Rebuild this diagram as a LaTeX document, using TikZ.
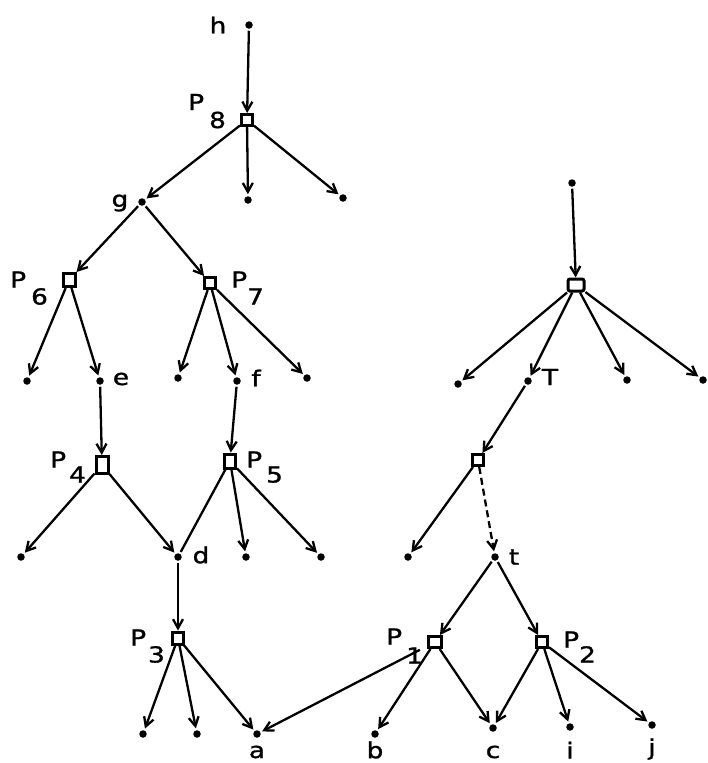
\documentclass[tikz,border=0pt]{standalone}
\usepackage{fontspec}
\setmainfont{DejaVu Sans}[FakeStretch=1.2,FakeBold=1.2]
\usetikzlibrary{arrows.meta}
\newcommand{\Plab}[3]{P\hspace{#2pt}\raisebox{-#3pt}{#1}}
\begin{document}
\begin{tikzpicture}[x=1pt,y=-1pt,
  dotnode/.style={circle,fill=black,inner sep=0pt,minimum size=7.5pt,outer sep=2pt},
  boxnode/.style={draw,line width=3pt,inner sep=0pt,minimum width=11pt,minimum height=11pt,outer sep=1.5pt},
  txt/.style={inner sep=0pt,font=\fontsize{22}{22}\selectfont},
  plab/.style={inner sep=0pt,anchor=base west,font=\fontsize{22}{22}\selectfont},
  arr/.style={line width=2.3pt,-{Straight Barb[length=9pt,width=10pt,line width=2.3pt]}},
  lin/.style={line width=2.3pt},
]
\useasboundingbox (0,0) rectangle (707,763);

% ---------- left tree ----------
\node[dotnode] (h) at (249,25) {};
\node[txt] (hl) at (218,25) {h};
\node[boxnode] (P8) at (247,120) {};
\node[plab] (P8l) at (188,110) {\Plab{8}{5}{18}};
\node[dotnode] (g) at (142,202) {};
\node[txt] (gl) at (120,203) {g};
\node[dotnode] (u1) at (248,200) {};
\node[dotnode] (u2) at (343,198) {};

\node[boxnode,minimum width=12pt,minimum height=13pt] (P6) at (69,280) {};
\node[plab] (P6l) at (10,287.5) {\Plab{6}{5}{17}};
\node[boxnode] (P7) at (210,283) {};
\node[plab] (P7l) at (231,287.5) {\Plab{7}{0}{17}};

\node[dotnode] (v1) at (27,381) {};
\node[dotnode] (e) at (100,381) {};
\node[txt] (el) at (121,379) {e};
\node[dotnode] (f) at (237,381) {};
\node[txt] (fl) at (256,378) {f};
\node[dotnode] (v2) at (178,378) {};
\node[dotnode] (v3) at (307,378) {};

\node[boxnode,minimum width=12pt,minimum height=17pt] (P4) at (102,465) {};
\node[plab] (P4l) at (50,467.5) {\Plab{4}{3}{15}};
\node[boxnode,minimum width=11pt,minimum height=14pt] (P5) at (230,461) {};
\node[plab] (P5l) at (246,467.5) {\Plab{5}{4}{15}};

\node[dotnode] (w1) at (21,557) {};
\node[dotnode] (d) at (178,557) {};
\node[txt] (dl) at (201,555) {d};
\node[dotnode] (w2) at (246,557) {};
\node[dotnode] (w3) at (321,557) {};

\node[boxnode,minimum height=12pt] (P3) at (178,638) {};
\node[plab] (P3l) at (130,645.5) {\Plab{3}{2}{17}};

\node[dotnode] (x1) at (143,734) {};
\node[dotnode] (x2) at (197,734) {};
\node[dotnode] (a) at (257,734) {};
\node[txt] (al) at (257,752) {a};

% ---------- right tree ----------
\node[dotnode] (r0) at (572,183) {};
\node[boxnode,minimum width=16pt,minimum height=12pt,rounded corners=2pt] (R) at (576,285) {};
\node[dotnode] (y1) at (458,384) {};
\node[dotnode] (T) at (528,381) {};
\node[txt] (Tl) at (550,377) {T};
\node[dotnode] (y2) at (627,380) {};
\node[dotnode] (y3) at (703,380) {};

\node[boxnode] (Q) at (478,460) {};
\node[dotnode] (z1) at (408,557) {};
\node[dotnode] (t) at (495,557) {};
\node[txt] (tl) at (514,557) {t};

\node[boxnode,minimum width=13pt] (P1) at (435,642) {};
\node[plab] (P1l) at (386,644.5) {\Plab{1}{4}{19}};
\node[boxnode] (P2) at (542,642) {};
\node[plab] (P2l) at (563,647.5) {\Plab{2}{0}{15}};

\node[dotnode] (b) at (375,734) {};
\node[txt] (bl) at (375,750) {b};
\node[dotnode] (c) at (493,728) {};
\node[txt] (cl) at (493,752) {c};
\node[dotnode] (i) at (570,727) {};
\node[txt] (il) at (570,750) {i};
\node[dotnode] (j) at (652,725) {};
\node[txt] (jl) at (652,749) {j};

% ---------- connectors ----------
\draw[arr] (h) -- (P8);
\draw[arr] (P8) -- (g);
\draw[arr] (P8) -- (u1);
\draw[arr] (P8) -- (u2);
\draw[arr] (g) -- (P6);
\draw[arr] (g) -- (P7);
\draw[arr] (P6) -- (v1);
\draw[arr] (P6) -- (e);
\draw[arr] (P7) -- (v2);
\draw[arr] (P7) -- (f);
\draw[arr] (P7) -- (v3);
\draw[arr] (e) -- (P4);
\draw[arr] (f) -- (P5);
\draw[arr] (P4) -- (w1);
\draw[arr] (P4) -- (d);
\draw[lin] (P5) -- (d);
\draw[arr] (P5) -- (w2);
\draw[arr] (P5) -- (w3);
\draw[arr] (d) -- (P3);
\draw[arr] (P3) -- (x1);
\draw[arr] (P3) -- (x2);
\draw[arr] (P3) -- (a);
\draw[arr,shorten <=8pt] (P1) -- (a);

\draw[arr] (r0) -- (R);
\draw[arr] (R) -- (y1);
\draw[arr] (R) -- (T);
\draw[arr] (R) -- (y2);
\draw[arr] (R) -- (y3);
\draw[arr] (T) -- (Q);
\draw[arr] (Q) -- (z1);
\draw[arr,dash pattern=on 7pt off 4pt] (Q) -- (t);
\draw[arr] (t) -- (P1);
\draw[arr] (t) -- (P2);
\draw[arr] (P1) -- (b);
\draw[arr] (P1) -- (c);
\draw[arr] (P2) -- (c);
\draw[arr] (P2) -- (i);
\draw[arr] (P2) -- (j);
\end{tikzpicture}
\end{document}
